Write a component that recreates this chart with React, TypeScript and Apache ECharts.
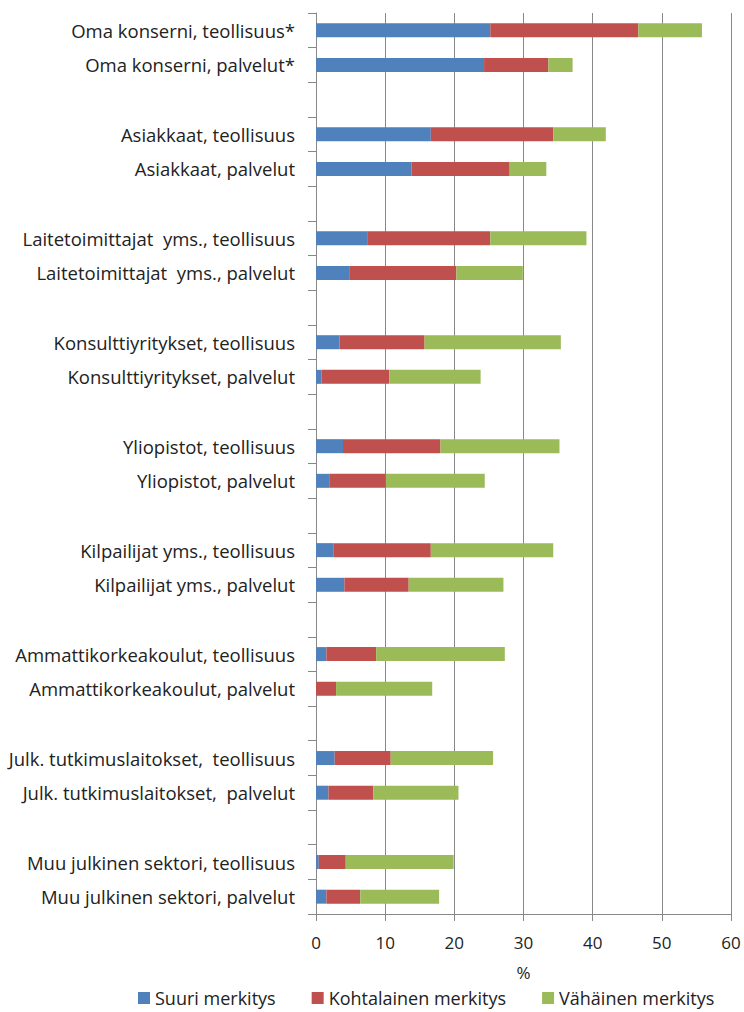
import React, { useEffect, useRef } from "react";
import * as echarts from "echarts";

const categories = [
  "Oma konserni, teollisuus*",
  "Oma konserni, palvelut*",
  "",
  "Asiakkaat, teollisuus",
  "Asiakkaat, palvelut",
  "",
  "Laitetoimittajat  yms., teollisuus",
  "Laitetoimittajat  yms., palvelut",
  "",
  "Konsulttiyritykset, teollisuus",
  "Konsulttiyritykset, palvelut",
  "",
  "Yliopistot, teollisuus",
  "Yliopistot, palvelut",
  "",
  "Kilpailijat yms., teollisuus",
  "Kilpailijat yms., palvelut",
  "",
  "Ammattikorkeakoulut, teollisuus",
  "Ammattikorkeakoulut, palvelut",
  "",
  "Julk. tutkimuslaitokset,  teollisuus",
  "Julk. tutkimuslaitokset,  palvelut",
  "",
  "Muu julkinen sektori, teollisuus",
  "Muu julkinen sektori, palvelut",
];

const suuri = [25.2, 24.3, null, 16.6, 13.8, null, 7.5, 4.8, null, 3.4, 0.8, null, 3.9, 2.0, null, 2.5, 4.1, null, 1.5, 0, null, 2.7, 1.8, null, 0.4, 1.5];
const kohtalainen = [21.4, 9.3, null, 17.7, 14.2, null, 17.7, 15.5, null, 12.3, 9.8, null, 14.1, 8.1, null, 14.1, 9.3, null, 7.2, 2.9, null, 8.1, 6.5, null, 3.9, 4.9];
const vahainen = [9.2, 3.5, null, 7.6, 5.3, null, 13.9, 9.6, null, 19.7, 13.2, null, 17.2, 14.3, null, 17.7, 13.7, null, 18.6, 13.9, null, 14.8, 12.3, null, 15.6, 11.4];

const seriesNames = ["Suuri merkitys", "Kohtalainen merkitys", "Vähäinen merkitys"];
const seriesColors = ["#4F81BD", "#C0504D", "#9BBB59"];
const xTicks = { min: 0, max: 60, interval: 10 };

const FONT = "Open Sans";

export default function App() {
  const ref = useRef<HTMLDivElement>(null);
  useEffect(() => {
    if (!ref.current) return;
    const chart = echarts.init(ref.current, null, { renderer: "svg" });
    const values = [suuri, kohtalainen, vahainen];
    chart.setOption({
      animation: false,
      grid: { left: 316, right: 13, top: 13, bottom: 98 },
      legend: {
        top: 984,
        left: 133,
        itemWidth: 12,
        itemHeight: 12,
        itemGap: 36,
        icon: "rect",
        textStyle: { fontFamily: FONT, fontSize: 18, color: "#222" },
        data: seriesNames,
      },
      xAxis: {
        type: "value",
        min: xTicks.min,
        max: xTicks.max,
        interval: xTicks.interval,
        name: "%",
        nameLocation: "middle",
        nameGap: 50,
        nameTextStyle: { fontFamily: FONT, fontSize: 17, color: "#222" },
        axisLine: { show: true, lineStyle: { color: "#888", width: 1 } },
        axisTick: { show: true, length: 7, lineStyle: { color: "#888" } },
        axisLabel: { fontFamily: FONT, fontSize: 17, color: "#222", margin: 20 },
        splitLine: { show: true, lineStyle: { color: "#888", width: 1 } },
      },
      yAxis: {
        type: "category",
        inverse: true,
        data: categories,
        axisLine: { show: true, lineStyle: { color: "#888", width: 1 } },
        axisTick: { show: true, length: 8, interval: 0, lineStyle: { color: "#888" } },
        axisLabel: { interval: 0, fontFamily: FONT, fontSize: 18.5, color: "#222", margin: 21 },
      },
      series: values.map((v, i) => ({
        name: seriesNames[i],
        type: "bar",
        stack: "total",
        barWidth: 14,
        data: v,
        itemStyle: { color: seriesColors[i] },
      })),
    });
    return () => chart.dispose();
  }, []);
  return <div ref={ref} style={{ position: "absolute", left: 0, top: 0, width: 744, height: 1012 }} />;
}
